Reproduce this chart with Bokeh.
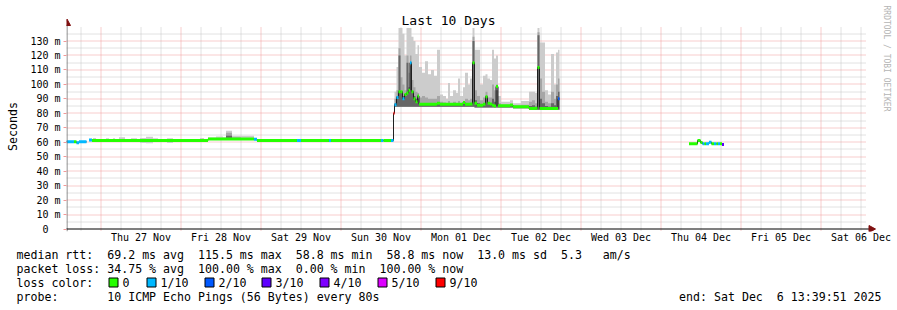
import math
from bokeh.plotting import figure
from bokeh.layouts import column
from bokeh.models import Range1d, FixedTicker, Label
from bokeh.core.properties import value
from bokeh.embed import file_html
from bokeh.resources import INLINE

# x = hours since Wed 26 Nov 2025 00:00 ; y = milliseconds
T_START = 13.65
T_END = 253.65

N = None
t_start = [
    13.65, 15.9, 16.65, 17.4, 19.65, 20.4, 21.3, 21.6, 22.5, 25.5,
    26.4, 27.6, 28.2, 29.4, 31.2, 33.0, 34.8, 35.7, 37.5, 39.6,
    41.1, 43.8, 45.6, 48.0, 52.5, 53.7, 54.9, 56.1, 58.5, 60.6,
    61.5, 63.3, 66.0, 69.9, 70.8, 82.8, 84.0, 92.4, 93.0, 108.0,
    108.75, 111.0, 111.75,
    112.05, 112.65, 113.25, 113.85, 114.45, 115.05, 115.65, 116.25, 116.7, 117.15,
    117.75, 118.35, 118.95, 119.4, 120.3, 121.2, 122.1, 123.0, 123.9, 124.8,
    125.7, 126.6, 127.5, 128.1, 128.7, 129.6, 130.5, 131.1, 131.7, 132.6,
    133.2, 134.1, 134.7, 135.45, 136.05, 136.8, 137.7, 138.6, 139.35, 139.95,
    140.7, 141.3, 141.9, 142.5, 143.1, 144.0, 146.7, 147.6, 150.0, 152.4,
    153.3, 154.2, 154.95, 155.55, 156.3, 157.2, 158.1, 159.0, 159.9, 160.5,
    161.1, 161.55,
    200.4, 202.95, 203.85, 204.45, 205.05, 205.5, 206.4, 207.15, 207.9, 208.65,
    209.1, 209.7, 210.3, 210.9,
]
median_ms = [
    60.3, 60.3, 59.7, 60.3, N, 61.5, 61.2, 61.2, 61.2, 61.2,
    61.2, 61.2, 61.2, 61.2, 61.2, 61.2, 61.2, 61.2, 61.2, 61.2,
    61.2, 61.2, 61.2, 61.2, 61.2, 61.2, 61.2, 62.3, 62.3, 62.3,
    62.3, 62.3, 62.3, 62.0, 61.2, 61.2, 61.2, 61.2, 61.2, 61.2,
    61.2, 61.2, 80.0,
    86.0, 91.0, 95.0, 95.0, 90.0, 93.0, 94.0, 96.0, 115.0, 95.0,
    90.0, 88.0, 92.0, 86.3, 86.3, 86.3, 86.3, 86.3, 86.3, 87.0,
    86.3, 86.3, 86.3, 86.3, 86.3, 86.3, 86.3, 86.3, 86.3, 87.5,
    86.3, 86.3, 86.5, 115.0, 87.0, 85.5, 85.5, 86.3, 91.5, 87.0,
    86.5, 85.5, 85.0, 98.5, 85.2, 85.2, 85.7, 84.5, 84.5, 83.3,
    83.3, 83.5, 111.7, 83.3, 83.3, 83.3, 83.3, 83.3, 83.3, 83.3,
    90.0, N,
    58.9, 61.2, 59.8, 58.9, 58.9, 58.9, 60.0, 58.9, 58.9, 58.9,
    58.9, 58.9, 58.5, N,
]
loss_n = [
    1, 0, 1, 1, N, 1, 0, 0, 0, 0,
    0, 0, 0, 0, 0, 0, 0, 0, 0, 0,
    0, 0, 0, 0, 0, 0, 0, 0, 0, 0,
    0, 0, 0, 1, 0, 1, 0, 1, 0, 1,
    0, 1, 9,
    1, 1, 0, 0, 1, 0, 0, 0, 1, 0,
    0, 0, 0, 0, 0, 0, 0, 0, 0, 0,
    0, 0, 0, 0, 0, 0, 0, 0, 0, 0,
    0, 0, 0, 0, 0, 0, 0, 0, 0, 0,
    0, 0, 0, 0, 0, 0, 0, 0, 0, 0,
    0, 0, 0, 0, 0, 0, 0, 0, 0, 0,
    2, N,
    0, 0, 0, 1, 0, 1, 1, 0, 1, 0,
    1, 0, 3, N,
]
smoke_lo = [
    59.5, 59.5, 59.0, 59.5, N, 60.5, 60.5, 60.5, 60.5, 60.5,
    60.5, 60.5, 60.5, 60.5, 60.5, 60.5, 60.5, 59.5, 59.3, 60.5,
    60.5, 59.5, 60.5, 60.5, 60.5, 60.5, 60.5, 61.5, 61.5, 61.5,
    61.5, 61.5, 61.5, 61.5, 60.5, 60.5, 60.5, 60.5, 60.5, 60.5,
    60.5, 60.5, 80.0,
    84.5, 84.5, 84.5, 84.5, 84.5, 84.5, 84.5, 84.5, 84.5, 84.5,
    84.5, 84.5, 84.5, 84.5, 84.5, 84.5, 84.5, 84.5, 84.5, 84.5,
    84.5, 84.5, 84.5, 84.5, 84.5, 84.5, 84.5, 84.5, 84.5, 84.5,
    84.5, 84.5, 84.5, 84.5, 84.0, 84.0, 84.0, 84.0, 84.0, 84.0,
    84.0, 84.0, 84.0, 84.0, 84.0, 84.0, 84.0, 83.5, 83.5, 82.5,
    82.5, 82.5, 82.5, 82.5, 82.5, 82.5, 82.5, 82.5, 82.5, 82.5,
    82.5, N,
    58.3, 60.5, 59.2, 58.3, 58.3, 58.3, 59.4, 58.3, 58.3, 58.3,
    58.3, 58.3, 58.0, N,
]
smoke_hi = [
    60.8, 60.8, 60.5, 60.8, N, 62.0, 61.8, 63.0, 61.8, 62.8,
    61.8, 62.8, 61.8, 63.5, 62.3, 62.8, 61.8, 63.0, 63.8, 62.8,
    61.8, 62.8, 61.8, 62.3, 61.8, 63.0, 61.8, 63.2, 64.0, 63.5,
    68.0, 64.5, 64.5, 63.0, 61.8, 61.8, 61.8, 61.8, 61.8, 61.8,
    61.8, 61.8, 80.0,
    95, 112, 139, 139, 135, 120, 139, 139, 139, 133,
    130, 121, 127, 112, 108, 116, 107, 110, 106, 124,
    93, 92, 90, 101, 92, 96, 94, 104, 92, 98,
    108, 100, 104, 139, 124, 124, 100, 106, 107, 104,
    103, 124, 118, 120, 92, 88, 89, 87, 88.5, 95,
    95, 94, 139, 129, 129, 96, 93, 121, 100, 122,
    124, N,
    59.5, 61.8, 60.4, 59.5, 59.5, 59.5, 60.6, 59.5, 59.5, 59.5,
    59.5, 59.5, 59.1, N,
]
smoke_mid = [
    N, N, N, N, N, N, N, N, N, N,
    N, N, N, N, N, N, N, N, N, N,
    N, N, N, N, N, N, N, N, N, N,
    66.5, 63.5, N, N, N, N, N, N, N, N,
    N, N, N,
    90, 96, 125, 105, 100, 96, 120, 108, 120, 103,
    98, 95, 94, 91, 92, 91, 90, 90, 90, 92,
    88, 87.5, 87, 88.5, 87, 88, 87, 88.5, 87, 88.5,
    90, 89, 90, 133, 96, 92, 89, 91, 95, 91,
    91, 100, 96, 100, 87, 86, 86.5, 85.5, 86, 88,
    89, 87, 136, 104, 95, 88, 87, 95, 90, 100,
    104, N,
    N, N, N, N, N, N, N, N, N, N,
    N, N, N, N,
]
smoke_dark = [
    N, N, N, N, N, N, N, N, N, N,
    N, N, N, N, N, N, N, N, N, N,
    N, N, N, N, N, N, N, N, N, N,
    64.5, N, N, N, N, N, N, N, N, N,
    N, N, N,
    87, 92, 120, 95, 92, 92, 115, 98, 113, 95,
    92, 90, 90, 87, 87, 87, 86.5, 86.5, 86.5, 87,
    86, 86, 86, 86.5, 86, 86, 86, 86.5, 86, 86.5,
    87, 86.5, 87, 130, 89, 87, 86.5, 87, 92, 87,
    87, 90, 88, 96, 85.5, 85.5, 85.5, 85, 85, 85,
    85.5, 84.5, 134, 90, 87, 85, 84.5, 87, 85.5, 92,
    95, N,
    N, N, N, N, N, N, N, N, N, N,
    N, N, N, N,
]

day_label_hours = [36, 60, 84, 108, 132, 156, 180, 204, 228, 252]
day_labels = ["Thu 27 Nov", "Fri 28 Nov", "Sat 29 Nov", "Sun 30 Nov", "Mon 01 Dec",
              "Tue 02 Dec", "Wed 03 Dec", "Thu 04 Dec", "Fri 05 Dec", "Sat 06 Dec"]
midnight_hours = [24, 48, 72, 96, 120, 144, 168, 192, 216, 240]
six_hour_hours = [18, 30, 36, 42, 54, 60, 66, 78, 84, 90, 102, 108, 114, 126, 132, 138,
                  150, 156, 162, 174, 180, 186, 198, 204, 210, 222, 228, 234, 246, 252]
y_ticks = [0, 10, 20, 30, 40, 50, 60, 70, 80, 90, 100, 110, 120, 130]
y_minor = [5, 15, 25, 35, 45, 55, 65, 75, 85, 95, 105, 115, 125, 135]
y_tick_labels = ["0\u00a0\u00a0", "10 m", "20 m", "30 m", "40 m", "50 m", "60 m", "70 m",
                 "80 m", "90 m", "100 m", "110 m", "120 m", "130 m"]

loss_keys = [0, 1, 2, 3, 4, 5, 9]
loss_names = ["0", "1/10", "2/10", "3/10", "4/10", "5/10", "9/10"]
loss_colors = ["#26ff00", "#00b8ff", "#0059ff", "#5e00ff", "#7e00ff", "#dd00ff", "#ff0000"]
loss_color = dict(zip(loss_keys, loss_colors))

legend_lines = [
    "median rtt:  69.2 ms avg  115.5 ms max  58.8 ms min  58.8 ms now  13.0 ms sd  5.3   am/s",
    "packet loss: 34.75 % avg  100.00 % max  0.00 % min  100.00 % now",
    "loss color:",
    "probe:       10 ICMP Echo Pings (56 Bytes) every 80s",
]
end_text = "end: Sat Dec  6 13:39:51 2025"

MONO = "DejaVu Sans Mono"
RED_GRID = "#f09a9a"
GRAY_GRID = "#c4c4c4"
NBSP = "\u00a0"

# ---- layout geometry (pixels) ----
W = 897
FL = 66            # frame left
FB = 231           # frame bottom (frame top = 0)
ZERO = 228.5       # pixel row of 0 ms
K = 202 / 139.7    # pixels per ms
PX_H = 80 / 24     # pixels per hour
MAIN_H = 246


def sx(px):
    return T_START + (px - FL) / PX_H


def sy(py):
    return (ZERO - py) / K


def snap(v):
    return sy(math.floor(ZERO - v * K) + 0.5)


p = figure(width=W, height=MAIN_H,
           x_range=Range1d(T_START, sx(W)), y_range=Range1d(sy(FB), sy(0)),
           output_backend="svg", toolbar_location=None, title=None,
           min_border_left=FL, min_border_right=0, min_border_top=0,
           min_border_bottom=MAIN_H - FB)
p.background_fill_color = "white"
p.border_fill_color = "white"
p.outline_line_color = None
p.xgrid.visible = False
p.ygrid.visible = False

# axes
p.xaxis.ticker = FixedTicker(ticks=day_label_hours)
p.xaxis.major_label_overrides = dict(zip(day_label_hours, day_labels))
p.xaxis.major_tick_in = 0
p.xaxis.major_tick_out = 0
p.xaxis.minor_tick_in = 0
p.xaxis.minor_tick_out = 0
p.xaxis.axis_line_color = None
p.xaxis.major_label_standoff = 0
p.xaxis.major_label_text_font = MONO
p.xaxis.major_label_text_font_size = "10px"
p.xaxis.major_label_text_color = "#000000"

p.yaxis.ticker = FixedTicker(ticks=y_ticks)
p.yaxis.major_label_overrides = dict(zip(y_ticks, y_tick_labels))
p.yaxis.major_tick_in = 0
p.yaxis.major_tick_out = 3
p.yaxis.minor_tick_in = 0
p.yaxis.minor_tick_out = 0
p.yaxis.major_tick_line_color = RED_GRID
p.yaxis.axis_line_color = None
p.yaxis.major_label_standoff = 3
p.yaxis.major_label_text_font = MONO
p.yaxis.major_label_text_font_size = "10px"
p.yaxis.major_label_text_color = "#000000"
# label centred on the frame; trailing no-break spaces move the word down to the reference spot
p.yaxis.axis_label = "Seconds" + NBSP * 3
p.yaxis.axis_label_standoff = 7
p.yaxis.axis_label_text_font = MONO
p.yaxis.axis_label_text_font_size = "11.6px"
p.yaxis.axis_label_text_font_style = "normal"
p.yaxis.axis_label_text_color = "#000000"

# grid lines (dotted, snapped to pixel rows like rrdtool)
top_v = sy(27)
p.segment(x0=six_hour_hours, y0=[top_v] * len(six_hour_hours), x1=six_hour_hours,
          y1=[sy(FB)] * len(six_hour_hours), line_color=GRAY_GRID, line_dash="1 1", line_width=1)
p.segment(x0=[T_START] * len(y_minor), y0=[snap(v) for v in y_minor],
          x1=[T_END] * len(y_minor), y1=[snap(v) for v in y_minor],
          line_color=GRAY_GRID, line_dash="1 1", line_width=1)
p.segment(x0=midnight_hours, y0=[top_v] * len(midnight_hours), x1=midnight_hours,
          y1=[sy(FB)] * len(midnight_hours), line_color=RED_GRID, line_dash="1 1", line_width=1)
p.segment(x0=[T_START] * (len(y_ticks) - 1), y0=[snap(v) for v in y_ticks[1:]],
          x1=[T_END] * (len(y_ticks) - 1), y1=[snap(v) for v in y_ticks[1:]],
          line_color=RED_GRID, line_dash="1 1", line_width=1)

# ---- data ----
n = len(t_start)
t_next = t_start[1:] + [T_END]

runs, cur = [], []
for i in range(n):
    if median_ms[i] is None:
        if cur:
            runs.append(cur)
            cur = []
    else:
        cur.append(i)
if cur:
    runs.append(cur)

for band, col in ((smoke_hi, "#cccccc"), (smoke_mid, "#a6a6a6"), (smoke_dark, "#666666")):
    for run in runs:
        xs, y1, y2 = [], [], []
        for i in run:
            lo = smoke_lo[i]
            top = band[i] if band[i] is not None else lo
            xs += [t_start[i], t_next[i]]
            y1 += [lo, lo]
            y2 += [top, top]
        p.varea(x=xs, y1=y1, y2=y2, fill_color=col)

mx, my = [], []
for i in range(n):
    if median_ms[i] is None:
        mx.append(float("nan"))
        my.append(float("nan"))
    else:
        mx += [t_start[i], t_next[i]]
        my += [median_ms[i], median_ms[i]]
p.line(mx, my, line_color="#202020", line_width=1)

sx0, sx1, sym, scol = [], [], [], []
for i in range(n):
    if median_ms[i] is None:
        continue
    sx0.append(t_start[i])
    sx1.append(t_next[i])
    sym.append(median_ms[i])
    scol.append(loss_color[loss_n[i]])
p.segment(x0=sx0, y0=sym, x1=sx1, y1=sym, line_color=scol, line_width=3)

# axis lines with arrow heads
p.segment(x0=[sx(66.5)], y0=[sy(FB)], x1=[sx(66.5)], y1=[sy(24)], line_color="#707070", line_width=1)
p.segment(x0=[sx(62)], y0=[0], x1=[sx(869)], y1=[0], line_color="#000000", line_width=1)
p.patch(x=[sx(63), sx(66.5), sx(70)], y=[sy(25), sy(18.5), sy(25)],
        fill_color="#7f1010", line_color="#7f1010")
p.patch(x=[sx(868.5), sx(875), sx(868.5)], y=[sy(225), sy(228.5), sy(232)],
        fill_color="#7f1010", line_color="#7f1010")

# title and watermark (inside the frame area)
p.add_layout(Label(x=sx(448), y=sy(20), text="Last 10 Days", text_font=MONO,
                   text_font_size="13px", text_align="center", text_baseline="middle",
                   text_color="#000000"))
p.add_layout(Label(x=sx(886), y=sy(5), text="RRDTOOL / TOBI OETIKER", text_font=MONO,
                   text_font_size="8px", text_align="left", text_baseline="middle",
                   angle=-math.pi / 2, text_color="#b4b4b4"))

# ---- legend strip (pixel coordinates) ----
q = figure(width=W, height=310 - MAIN_H, x_range=Range1d(0, W), y_range=Range1d(310, MAIN_H),
           output_backend="svg", toolbar_location=None, title=None,
           x_axis_type=None, y_axis_type=None,
           min_border_left=0, min_border_right=0, min_border_top=0, min_border_bottom=0)
q.background_fill_color = "white"
q.border_fill_color = "white"
q.outline_line_color = None
q.xgrid.visible = False
q.ygrid.visible = False
for fig in (p, q):
    try:
        fig.frame_align = False
    except Exception:
        pass


def keep_spaces(s):
    return s.replace(" ", NBSP)


line_y = [254, 268, 282, 296]
q.text(x=[16] * 4, y=line_y, text=[keep_spaces(s) for s in legend_lines], text_font=value(MONO),
       text_font_size=value("11.6px"), text_baseline="middle", text_align="left",
       text_color="#000000")
q.text(x=[881], y=[296], text=[keep_spaces(end_text)], text_font=value(MONO),
       text_font_size=value("11.6px"), text_baseline="middle", text_align="right",
       text_color="#000000")

box_left = [108, 146, 204, 261, 319, 377, 435]
q.quad(left=[b + 0.5 for b in box_left], right=[b + 9.5 for b in box_left],
       top=[277.5] * 7, bottom=[286.5] * 7, fill_color=loss_colors, line_color="#000000",
       line_width=1)
q.text(x=[b + 14 for b in box_left], y=[282] * 7, text=loss_names, text_font=value(MONO),
       text_font_size=value("11.6px"), text_baseline="middle", text_align="left",
       text_color="#000000")

root = column(p, q, spacing=0)
open("out.html", "w").write(file_html(root, INLINE))
